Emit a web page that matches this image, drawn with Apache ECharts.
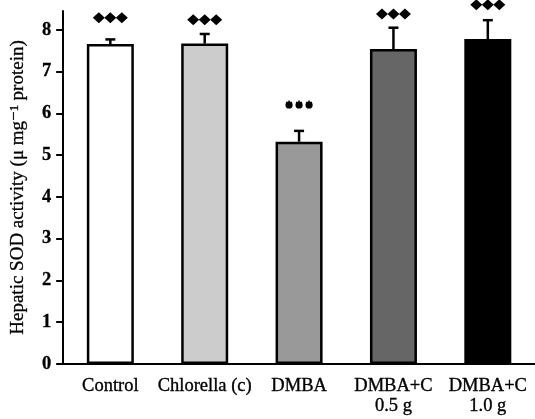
<!DOCTYPE html>
<html><head><meta charset="utf-8">
<script src="https://cdn.jsdelivr.net/npm/echarts@6/dist/echarts.min.js"></script>
<style>html,body{margin:0;padding:0;background:#fff}#c{width:535px;height:419px}</style>
</head><body><div id="c"></div>
<script>
const categories = ['Control', 'Chlorella (c)', 'DMBA', 'DMBA+C\n0.5 g', 'DMBA+C\n1.0 g'];
const means = [7.66, 7.67, 5.32, 7.54, 7.78];
const errors = [0.11, 0.23, 0.26, 0.51, 0.45];
const barColors = ['#ffffff', '#cccccc', '#999999', '#666666', '#000000'];
const markTypes = ['diamond', 'diamond', 'star', 'diamond', 'diamond'];
const markY = [8.29, 8.24, 6.2, 8.38, 8.6];
const yTicks = [0, 1, 2, 3, 4, 5, 6, 7, 8];

const chart = echarts.init(document.getElementById('c'));
const serif = '"Liberation Serif", "DejaVu Serif", serif';

chart.setOption({
  animation: false,
  grid: { left: 63, top: 11, width: 475, bottom: 55, containLabel: false },
  xAxis: {
    type: 'category', data: categories,
    axisLine: { lineStyle: { color: '#000', width: 2 } },
    axisTick: { alignWithLabel: true, length: 7, lineStyle: { color: '#000', width: 2 } },
    axisLabel: { color: '#000', fontFamily: serif, fontSize: 18.5, margin: 12, lineHeight: 20, interval: 0,
                 textBorderColor: '#000', textBorderWidth: 0.35 }
  },
  yAxis: {
    type: 'value', min: 0, max: 8.45, interval: 1,
    name: 'Hepatic SOD activity (μ mg⁻¹ protein)', nameLocation: 'middle', nameGap: 36,
    nameTextStyle: { color: '#000', fontFamily: serif, fontSize: 19, textBorderColor: '#000', textBorderWidth: 0.3 },
    axisLine: { show: true, lineStyle: { color: '#000', width: 2 } },
    axisTick: { show: true, length: 7, customValues: yTicks, lineStyle: { color: '#000', width: 2 } },
    axisLabel: { color: '#000', fontFamily: serif, fontSize: 18.5, fontWeight: 'bold', margin: 12, customValues: yTicks,
                 textBorderColor: '#000', textBorderWidth: 0.3 },
    splitLine: { show: false }
  },
  series: [
    {
      type: 'bar', barWidth: 47,
      data: means.map((v, i) => ({ value: v, itemStyle: { color: barColors[i] } })),
      itemStyle: { borderColor: '#000', borderWidth: 2.5 },
      z: 2
    },
    {
      type: 'custom', z: 3,
      data: means.map((v, i) => [i, v, v + errors[i]]),
      renderItem: (params, api) => {
        const x = api.coord([api.value(0), api.value(1)])[0];
        const y0 = api.coord([api.value(0), api.value(1)])[1];
        const y1 = api.coord([api.value(0), api.value(2)])[1];
        const st = { stroke: '#000', lineWidth: 2.5 };
        return { type: 'group', children: [
          { type: 'line', shape: { x1: x, y1: y0, x2: x, y2: y1 }, style: st },
          { type: 'line', shape: { x1: x - 5, y1: y1, x2: x + 5, y2: y1 }, style: st }
        ]};
      }
    },
    {
      type: 'custom', z: 4, clip: false,
      data: markY.map((v, i) => [i, v, markTypes[i] === 'star' ? 1 : 0]),
      renderItem: (params, api) => {
        const p = api.coord([api.value(0), api.value(1)]);
        const children = [];
        if (api.value(2) === 1) {
          for (let k = -1; k <= 1; k++) {
            children.push({ type: 'circle', shape: { cx: p[0] + k * 10, cy: p[1], r: 3.6 }, style: { fill: '#000' } });
            children.push({ type: 'text', style: { text: '✱', x: p[0] + k * 10, y: p[1], fill: '#000', font: '9px "DejaVu Sans"', align: 'center', verticalAlign: 'middle' } });
          }
        } else {
          for (let k = -1; k <= 1; k++) {
            const cx = p[0] + k * 11.5, cy = p[1];
            children.push({ type: 'polygon', shape: { points: [[cx, cy - 5.5], [cx + 6, cy], [cx, cy + 5.5], [cx - 6, cy]] }, style: { fill: '#000' } });
          }
        }
        return { type: 'group', children };
      }
    }
  ]
});
</script></body></html>
